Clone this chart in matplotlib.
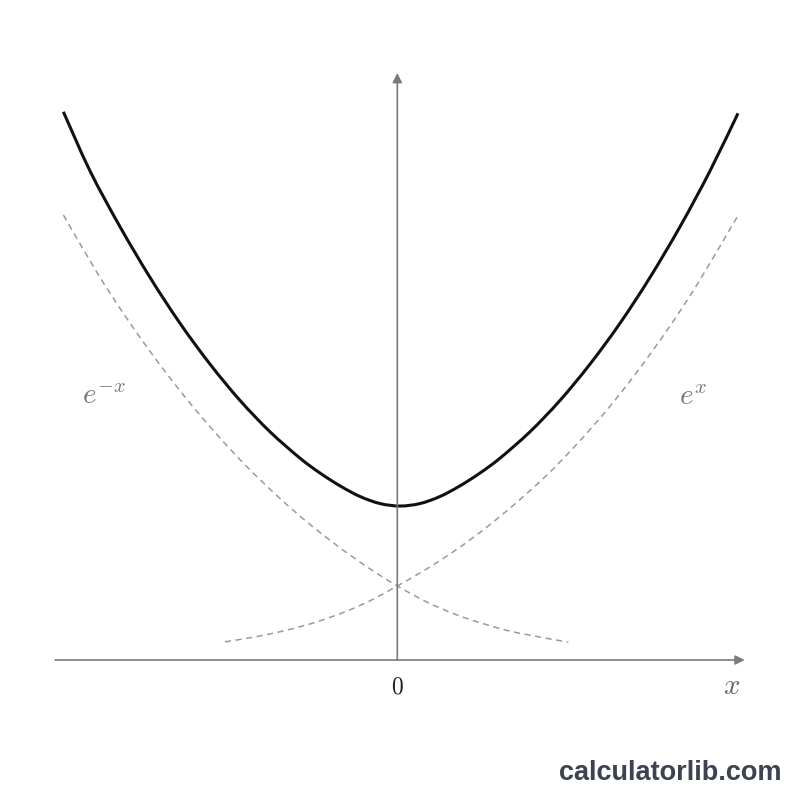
import matplotlib
matplotlib.use("Agg")
import matplotlib.pyplot as plt
from matplotlib.path import Path
from matplotlib.patches import PathPatch

plt.rcParams['mathtext.fontset'] = 'cm'

# Values (x: horizontal units, y: vertical units)
cosh_x = [-1.976, -1.818, -1.641, -1.463, -1.286, -1.108, -0.931, -0.753, -0.576, -0.457,
          -0.339, -0.221, -0.102, 0.016, 0.134, 0.253, 0.371, 0.489, 0.608, 0.785,
          0.963, 1.140, 1.318, 1.495, 1.673, 1.850, 2.016]
cosh_y = [3.560, 3.175, 2.814, 2.484, 2.187, 1.921, 1.686, 1.482, 1.311, 1.214,
          1.131, 1.062, 1.016, 1.000, 1.016, 1.062, 1.131, 1.214, 1.311, 1.482,
          1.686, 1.921, 2.187, 2.484, 2.814, 3.175, 3.550]

exp_x = [-1.020, -0.828, -0.651, -0.473, -0.296, -0.148, 0.000, 0.178, 0.355, 0.533,
         0.710, 0.888, 1.065, 1.243, 1.420, 1.598, 1.775, 2.018]
exp_y = [0.118, 0.153, 0.195, 0.249, 0.319, 0.392, 0.481, 0.594, 0.721, 0.866,
         1.027, 1.204, 1.405, 1.627, 1.873, 2.144, 2.440, 2.890]

expn_x = [-1.976, -1.775, -1.598, -1.420, -1.243, -1.065, -0.888, -0.710, -0.533, -0.355,
          -0.178, 0.000, 0.178, 0.355, 0.533, 0.710, 1.012]
expn_y = [2.890, 2.513, 2.214, 1.940, 1.690, 1.461, 1.253, 1.065, 0.895, 0.742,
          0.604, 0.481, 0.375, 0.292, 0.228, 0.177, 0.116]

axis_x_range = [-2.025, 2.056]
axis_y_top = 3.812


def smooth_path(xs, ys):
    """Cubic Bezier path through the read points (drawn by matplotlib's Path)."""
    pts = list(zip(xs, ys))
    n = len(pts)
    verts = [pts[0]]
    codes = [Path.MOVETO]
    for i in range(n - 1):
        p0 = pts[i - 1] if i > 0 else pts[i]
        p1 = pts[i]
        p2 = pts[i + 1]
        p3 = pts[i + 2] if i + 2 < n else pts[i + 1]
        c1 = (p1[0] + (p2[0] - p0[0]) / 6.0, p1[1] + (p2[1] - p0[1]) / 6.0)
        c2 = (p2[0] - (p3[0] - p1[0]) / 6.0, p2[1] - (p3[1] - p1[1]) / 6.0)
        verts += [c1, c2, p2]
        codes += [Path.CURVE4, Path.CURVE4, Path.CURVE4]
    return Path(verts, codes)


fig = plt.figure(figsize=(8, 8), dpi=100)
ax = fig.add_axes([0, 0, 1, 1])
ax.set_xlim(-2.351, 2.383)
ax.set_ylim(-0.909, 4.286)
ax.axis('off')

axis_col = '#7a7a7a'
ax.annotate('', xy=(axis_x_range[1], 0), xytext=(axis_x_range[0], 0),
            arrowprops=dict(arrowstyle='-|>', color=axis_col, lw=1.2,
                            mutation_scale=14, shrinkA=0, shrinkB=0))
ax.annotate('', xy=(0, axis_y_top), xytext=(0, 0),
            arrowprops=dict(arrowstyle='-|>', color=axis_col, lw=1.2,
                            mutation_scale=14, shrinkA=0, shrinkB=0))

dash_col = '#9a9a9a'
for xs, ys in [(exp_x, exp_y), (expn_x, expn_y)]:
    ax.add_patch(PathPatch(smooth_path(xs, ys), fill=False, edgecolor=dash_col,
                           lw=1.1, ls=(0, (4, 3))))
ax.add_patch(PathPatch(smooth_path(cosh_x, cosh_y), fill=False, edgecolor='#111111',
                       lw=2.2, capstyle='butt'))

ax.text(0, -0.169, r'$0$', fontsize=17, color='#222222', ha='center', va='center')
ax.text(1.980, -0.169, r'$x$', fontsize=21, color='#666666', ha='center', va='center')
ax.text(-1.736, 1.714, r'$e^{-x}$', fontsize=21, color='#777777', ha='center', va='center')
ax.text(1.750, 1.708, r'$e^{x}$', fontsize=21, color='#777777', ha='center', va='center')

fig.text(0.9775, 0.034, 'calculatorlib.com', fontsize=19.5, fontweight='bold',
         family='Liberation Sans', color='#3d4250', ha='right', va='center')

fig.savefig('out.png', dpi=100, facecolor='white')
